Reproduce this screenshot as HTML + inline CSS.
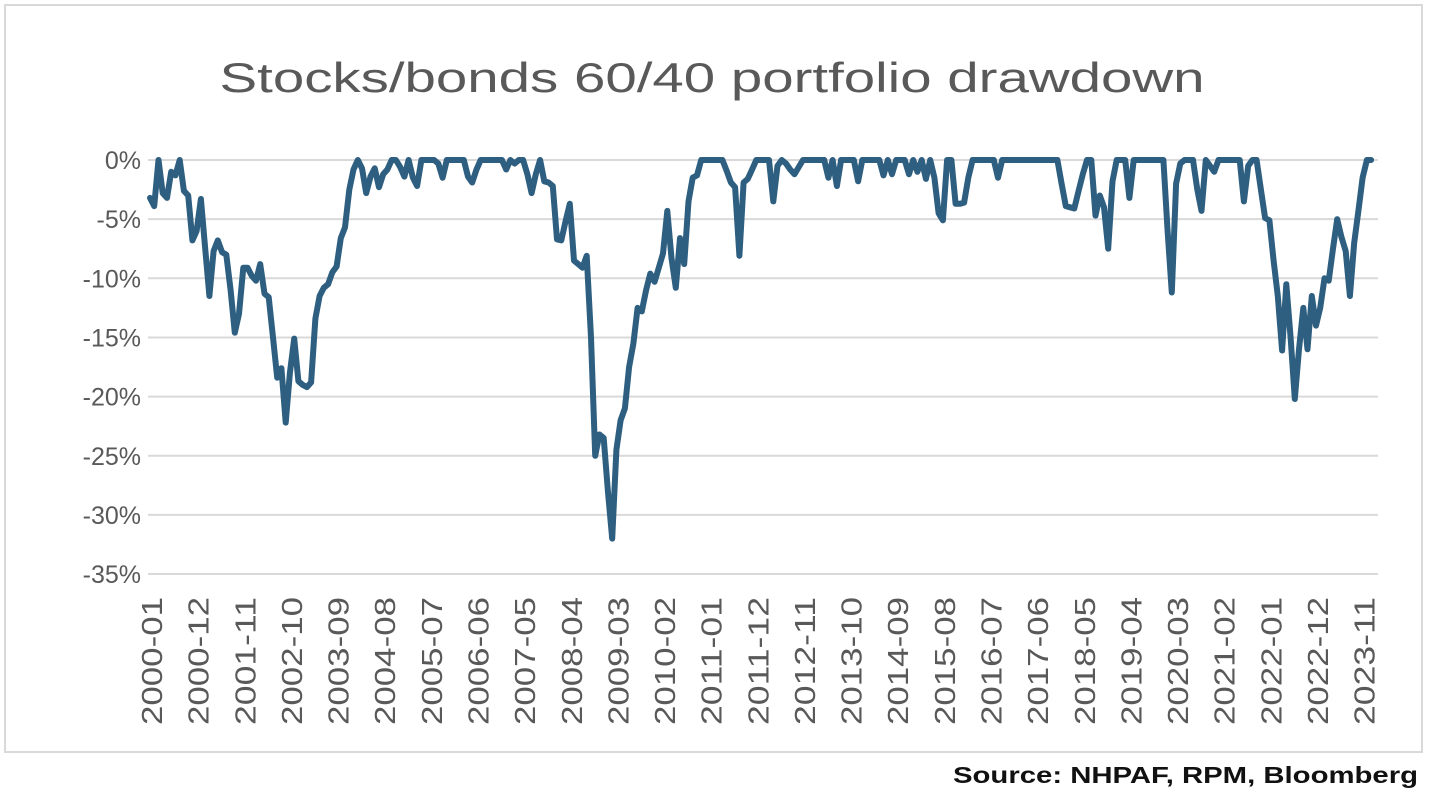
<!DOCTYPE html>
<html><head><meta charset="utf-8">
<style>
html,body{margin:0;padding:0;background:#fff;}
svg{display:block;font-family:"Liberation Sans",sans-serif;}
</style></head>
<body>
<svg id="chart" width="1430" height="798" viewBox="0 0 1430 798">
<rect x="5" y="5" width="1417" height="747" fill="#fff" stroke="#d9d9d9" stroke-width="2"/>
<text x="712" y="92" text-anchor="middle" font-size="42" fill="#595959" textLength="985" lengthAdjust="spacingAndGlyphs">Stocks/bonds 60/40 portfolio drawdown</text>
<g id="grid"></g>
<g id="yticks"></g>
<g id="xticks"></g>
<g id="series"></g>
<text x="1418" y="783" text-anchor="end" font-size="23" font-weight="bold" fill="#111" textLength="465" lengthAdjust="spacingAndGlyphs">Source: NHPAF, RPM, Bloomberg</text>
</svg>
<script>
const startYear = 2000;
const startMonth = 1;
const drawdown = [
-3.2,-3.9,0,-2.8,-3.2,-1,-1.3,0,-2.6,-3,-6.8,-6,
-3.3,-7.4,-11.5,-7.7,-6.8,-7.8,-8,-11,-14.6,-13,-9.1,-9.1,
-9.8,-10.2,-8.8,-11.3,-11.6,-15,-18.4,-17.6,-22.2,-18,-15.1,-18.7,
-19,-19.2,-18.8,-13.4,-11.5,-10.8,-10.5,-9.5,-9,-6.6,-5.7,-2.5,
-0.8,0,-0.7,-2.8,-1.4,-0.7,-2.3,-1.2,-0.8,0,0,-0.6,
-1.4,0,-1.5,-2.2,0,0,0,0,-0.3,-1.5,0,0,
0,0,0,-1.4,-1.9,-0.8,0,0,0,0,0,0,
-0.8,0,-0.3,0,0,-1.2,-2.8,-1.2,0,-1.8,-1.9,-2.2,
-6.7,-6.8,-5.2,-3.7,-8.5,-8.8,-9.1,-8.1,-15,-25,-23.2,-23.5,
-28,-32,-24.5,-22,-21,-17.5,-15.5,-12.5,-12.8,-11,-9.6,-10.3,
-9.1,-7.9,-4.3,-8.3,-10.8,-6.6,-8.8,-3.5,-1.5,-1.3,0,0,
0,0,0,0,-0.9,-1.9,-2.3,-8.1,-1.9,-1.6,-0.8,0,
0,0,0,-3.5,-0.5,0,-0.3,-0.8,-1.2,-0.6,0,0,
0,0,0,0,-1.5,0,-2.2,0,0,0,0,-1.8,
0,0,0,0,0,-1.3,0,-1.2,0,0,0,-1.2,
0,-1.0,0,-1.6,0,-1.5,-4.5,-5.1,0,0,-3.7,-3.7,
-3.6,-1.5,0,0,0,0,0,0,-1.5,0,0,0,
0,0,0,0,0,0,0,0,0,0,0,-2,
-3.9,-4,-4.1,-2.6,-1.2,0,0,-4.7,-3.0,-4,-7.5,-1.8,
0,0,0,-3.2,0,0,0,0,0,0,0,0,
-6,-11.2,-2,-0.3,0,0,0,-2.5,-4.3,0,-0.5,-1,
0,0,0,0,0,0,-3.5,-0.5,0,0,-2.5,-4.9,
-5.1,-8.5,-11.5,-16.1,-10.5,-15,-20.2,-16,-12.5,-16,-11.5,-14,
-12.5,-10,-10.2,-7.5,-5,-6.5,-7.7,-11.5,-7,-4.3,-1.5,0,
0
];
const yTickValues = [0,-5,-10,-15,-20,-25,-30,-35];
const yTickLabels = ["0%","-5%","-10%","-15%","-20%","-25%","-30%","-35%"];
const xTickLabels = ["2000-01","2000-12","2001-11","2002-10","2003-09","2004-08","2005-07","2006-06","2007-05","2008-04","2009-03","2010-02","2011-01","2011-12","2012-11","2013-10","2014-09","2015-08","2016-07","2017-06","2018-05","2019-04","2020-03","2021-02","2022-01","2022-12","2023-11"];

const NS = "http://www.w3.org/2000/svg";
const plotLeft = 148, plotRight = 1378;
function xScale(i){ return 150 + i * 4.24; }
function yScale(v){ return 160 - v * 11.83; }
function labelIndex(lbl){
  const p = lbl.split("-");
  return (parseInt(p[0]) - startYear) * 12 + (parseInt(p[1]) - startMonth);
}

const grid = document.getElementById("grid");
const yt = document.getElementById("yticks");
yTickValues.forEach((v, k) => {
  const y = yScale(v);
  const ln = document.createElementNS(NS, "line");
  ln.setAttribute("x1", plotLeft); ln.setAttribute("x2", plotRight);
  ln.setAttribute("y1", y); ln.setAttribute("y2", y);
  ln.setAttribute("stroke", "#d9d9d9"); ln.setAttribute("stroke-width", "2");
  
  
  grid.appendChild(ln);
  const t = document.createElementNS(NS, "text");
  t.setAttribute("x", 141); t.setAttribute("y", y + 9);
  t.setAttribute("text-anchor", "end"); t.setAttribute("font-size", "25");
  t.setAttribute("fill", "#595959");
  t.textContent = yTickLabels[k];
  
  
  yt.appendChild(t);
});

const xt = document.getElementById("xticks");
xTickLabels.forEach(lbl => {
  const x = xScale(labelIndex(lbl));
  const t = document.createElementNS(NS, "text");
  t.setAttribute("transform", "translate(" + (x + 12) + ",597) rotate(-90)");
  t.setAttribute("text-anchor", "end"); t.setAttribute("font-size", "29");
  t.setAttribute("textLength", "128");
  t.setAttribute("lengthAdjust", "spacingAndGlyphs");
  t.setAttribute("fill", "#595959");
  t.textContent = lbl;
  
  
  xt.appendChild(t);
});

const pts = drawdown.map((v, i) => xScale(i).toFixed(1) + "," + yScale(v).toFixed(1)).join(" ");
const pl = document.createElementNS(NS, "polyline");
pl.setAttribute("points", pts);
pl.setAttribute("fill", "none");
pl.setAttribute("stroke", "#2e5f80");
pl.setAttribute("stroke-width", "6");
pl.setAttribute("stroke-linejoin", "round");
pl.setAttribute("stroke-linecap", "round");


document.getElementById("series").appendChild(pl);
</script>
</body></html>
